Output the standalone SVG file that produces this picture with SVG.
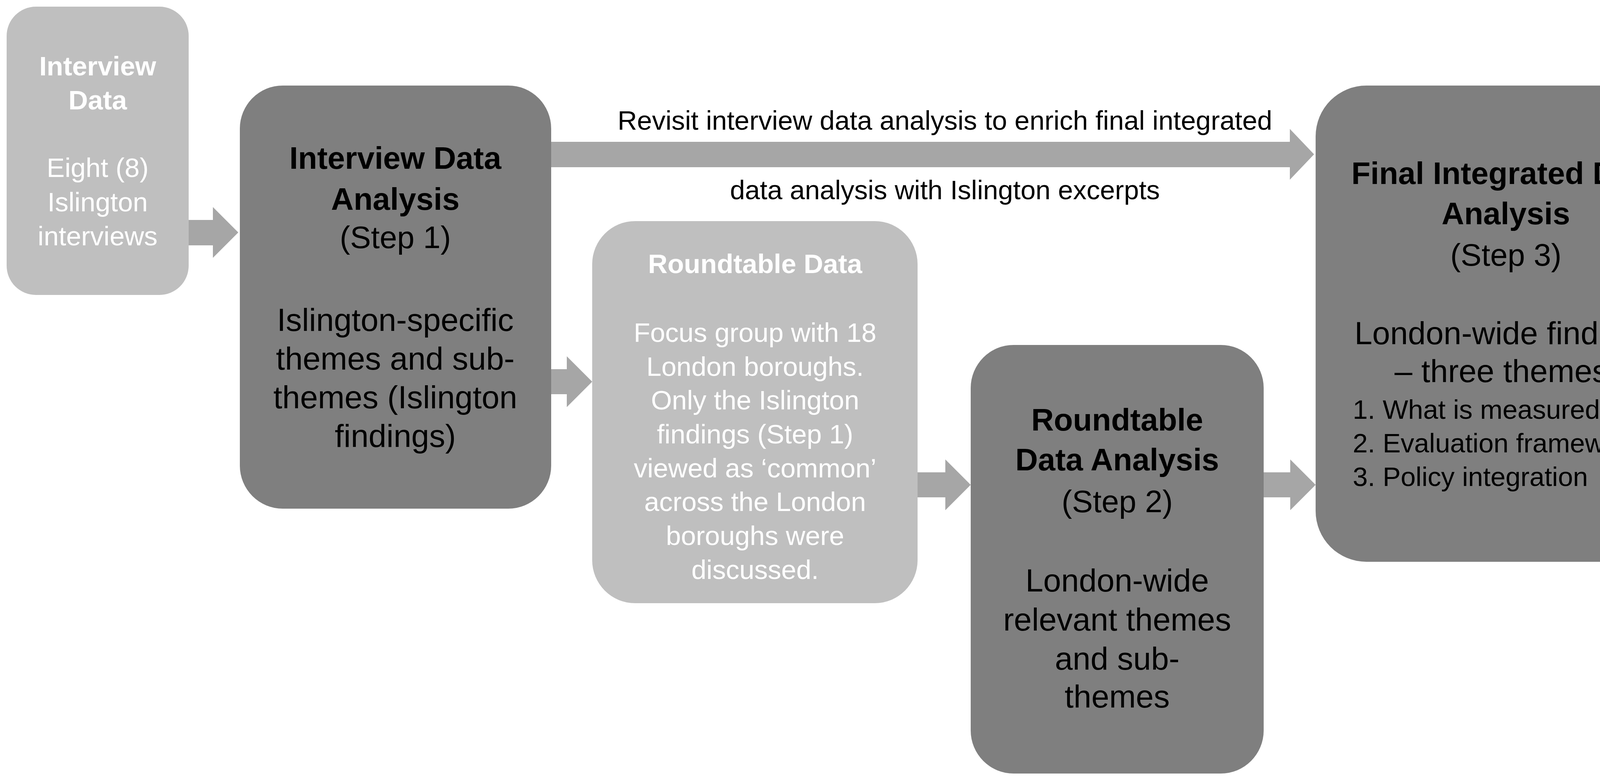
<svg xmlns="http://www.w3.org/2000/svg" width="4354" height="1994" viewBox="0 0 4354 1994">
<style>
text{font-family:"Liberation Sans",Arial,sans-serif;text-anchor:middle}
.light{fill:#bfbfbf}.dark{fill:#7f7f7f}
.w{fill:#fff}.k{fill:#000}.b{font-weight:bold}
.t{font-size:80px}.m{font-size:82px}.s{font-size:69px}
.arr{fill:#a6a6a6}
.l{text-anchor:start}
</style>
<rect width="4354" height="1994" fill="#fff"/>
<g id="connectors">
<polygon class="arr" points="483,563 545,563 545,530 610,595 545,660 545,628 483,628"/>
<polygon class="arr" points="1411,945 1451,945 1451,912 1516,977 1451,1042 1451,1009 1411,1009"/>
<polygon class="arr" points="2349,1209 2420,1209 2420,1176 2485,1241 2420,1306 2420,1273 2349,1273"/>
<polygon class="arr" points="3235,1209 3303,1209 3303,1176 3368,1241 3303,1306 3303,1273 3235,1273"/>
<polygon class="arr" points="1411,363 3302,363 3302,330 3364,395 3302,460 3302,428 1411,428"/>
<text class="k s" x="2419" y="332">Revisit interview data analysis to enrich final integrated</text>
<text class="k s" x="2419" y="510">data analysis with Islington excerpts</text>
</g>
<g id="interview-data">
<rect class="light" x="17" y="17" width="466" height="738" rx="75"/>
<text class="w b s" x="250" y="193">Interview</text>
<text class="w b s" x="250" y="280">Data</text>
<text class="w s" x="250" y="453">Eight (8)</text>
<text class="w s" x="250" y="541">Islington</text>
<text class="w s" x="250" y="628">interviews</text>
</g>
<g id="interview-analysis">
<rect class="dark" x="614" y="219" width="797" height="1083" rx="110"/>
<text class="k b t" x="1012" y="432">Interview Data</text>
<text class="k b t" x="1012" y="537">Analysis</text>
<text class="k t" x="1012" y="635">(Step 1)</text>
<text class="k m" x="1012" y="847">Islington-specific</text>
<text class="k m" x="1012" y="946">themes and sub-</text>
<text class="k m" x="1012" y="1045">themes (Islington</text>
<text class="k m" x="1012" y="1144">findings)</text>
</g>
<g id="roundtable-data">
<rect class="light" x="1516" y="566" width="833" height="978" rx="110"/>
<text class="w b s" x="1933" y="699">Roundtable Data</text>
<text class="w s" x="1933" y="875">Focus group with 18</text>
<text class="w s" x="1933" y="962">London boroughs.</text>
<text class="w s" x="1933" y="1048">Only the Islington</text>
<text class="w s" x="1933" y="1135">findings (Step 1)</text>
<text class="w s" x="1933" y="1222">viewed as ‘common’</text>
<text class="w s" x="1933" y="1308">across the London</text>
<text class="w s" x="1933" y="1395">boroughs were</text>
<text class="w s" x="1933" y="1482">discussed.</text>
</g>
<g id="roundtable-analysis">
<rect class="dark" x="2485" y="883" width="750" height="1097" rx="110"/>
<text class="k b t" x="2860" y="1102">Roundtable</text>
<text class="k b t" x="2860" y="1204">Data Analysis</text>
<text class="k t" x="2860" y="1311">(Step 2)</text>
<text class="k m" x="2860" y="1514">London-wide</text>
<text class="k m" x="2860" y="1614">relevant themes</text>
<text class="k m" x="2860" y="1714">and sub-</text>
<text class="k m" x="2860" y="1811">themes</text>
</g>
<g id="final-analysis">
<rect class="dark" x="3368" y="219" width="972" height="1219" rx="130"/>
<text class="k b t" x="3855" y="471">Final Integrated Data</text>
<text class="k b t" x="3855" y="574">Analysis</text>
<text class="k t" x="3855" y="680">(Step 3)</text>
<text class="k m" x="3855" y="881">London-wide findings</text>
<text class="k m" x="3855" y="978">– three themes:</text>
<text class="k s l" x="3463" y="1072">1. What is measured</text>
<text class="k s l" x="3463" y="1158">2. Evaluation frameworks</text>
<text class="k s l" x="3463" y="1244">3. Policy integration</text>
</g>
</svg>
